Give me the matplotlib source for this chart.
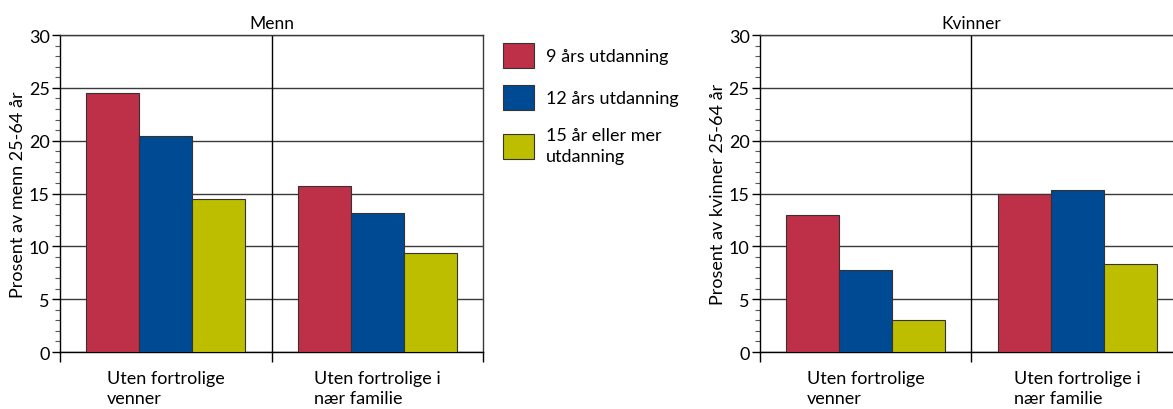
import matplotlib
import matplotlib.pyplot as plt
from matplotlib.patches import Patch
from matplotlib.ticker import MultipleLocator, FixedLocator
import numpy as np

matplotlib.use("Agg")
plt.rcParams['font.family'] = ['Lato', 'DejaVu Sans']
plt.rcParams['font.size'] = 13

# andel uten fortrolige, etter utdanning
kategorier = ['Uten fortrolige\nvenner', 'Uten fortrolige i\nnær familie']
utdanning = ['9 års utdanning', '12 års utdanning', '15 år eller mer\nutdanning']
farger = ['#BE2F48', '#004A94', '#BDBE00']

menn = [[24.5, 15.7],   # 9 år
        [20.4, 13.2],   # 12 år
        [14.5, 9.4]]    # 15+ år
kvinner = [[13.0, 15.0],
           [7.8, 15.3],
           [3.0, 8.3]]

fig = plt.figure(figsize=(11.73, 4.10), dpi=100)
ax1 = fig.add_axes([0.0512, 0.139, 0.3606, 0.773])
ax2 = fig.add_axes([0.6479, 0.139, 0.3606, 0.773])

bredde = 0.25
sentre = np.arange(len(kategorier)) + 0.5


def tegn(ax, data, tittel, ylabel):
    for i, verdier in enumerate(data):
        ax.bar(sentre + (i - 1) * bredde, verdier, width=bredde, color=farger[i],
               edgecolor='#333333', linewidth=0.8, zorder=3)
    ax.set_xlim(0, len(kategorier))
    ax.set_ylim(0, 30)
    ax.yaxis.set_major_locator(MultipleLocator(5))
    ax.yaxis.set_minor_locator(MultipleLocator(1))
    ax.grid(axis='y', which='major', color='#3a3a3a', linewidth=1, zorder=1)
    ax.axvline(1, color='black', linewidth=1, zorder=2)
    # skillestreker under aksen, tekst midt i hver kategori
    ax.xaxis.set_major_locator(FixedLocator([0, 1, 2]))
    ax.xaxis.set_minor_locator(FixedLocator(sentre))
    ax.set_xticklabels(['', '', ''])
    ax.set_xticklabels(kategorier, minor=True, ha='center', multialignment='left',
                       linespacing=1.3)
    ax.tick_params(axis='x', which='major', length=7, width=1, color='black')
    ax.tick_params(axis='x', which='minor', length=0, pad=13)
    ax.tick_params(axis='y', which='major', length=6, width=1, pad=1.5)
    ax.tick_params(axis='y', which='minor', length=3.5, width=0.8, color='#555555')
    for s in ax.spines.values():
        s.set_color('#3a3a3a')
        s.set_linewidth(1)
    ax.spines['left'].set_color('black')
    ax.spines['bottom'].set_color('black')
    ax.set_title(tittel, fontsize=12.5, pad=5)
    ax.set_ylabel(ylabel, labelpad=2)


tegn(ax1, menn, 'Menn', 'Prosent av menn 25-64 år')
tegn(ax2, kvinner, 'Kvinner', 'Prosent av kvinner 25-64 år')

handles = [Patch(facecolor=f, edgecolor='#333333', linewidth=0.8) for f in farger]
leg = fig.legend(handles, utdanning, loc='upper left', bbox_to_anchor=(0.4285, 0.893),
                 frameon=False, handlelength=1.75, handleheight=1.75, labelspacing=0.95,
                 handletextpad=0.65, borderaxespad=0, borderpad=0, fontsize=13)
for t in leg.get_texts():
    t.set_linespacing(1.35)

plt.savefig('out.png', dpi=100)
